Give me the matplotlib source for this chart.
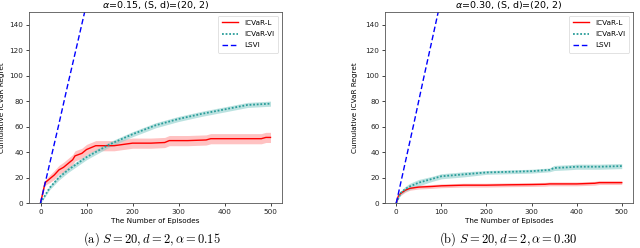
import matplotlib
matplotlib.use("Agg")
import matplotlib.pyplot as plt
import numpy as np

plt.rcParams['font.family'] = 'DejaVu Sans'
plt.rcParams['mathtext.fontset'] = 'dejavusans'

# Panel (a): alpha = 0.15
a_x = [0, 10, 20, 30, 40, 50, 60, 70, 75, 90, 100, 110, 120, 140, 160, 180, 200, 240, 270, 280, 320, 360, 370, 420, 480, 490, 500]
a_red = [0, 16, 19, 22, 26, 28, 31, 34, 37, 39, 42, 43.5, 45, 45, 45, 46, 47, 47, 47.5, 49, 49, 49.5, 50.5, 50.5, 50.5, 51.5, 51.5]
a_red_sd = [0, 2, 3, 3.5, 3.5, 4, 4, 4, 4, 4, 4, 4, 4, 4, 4, 4, 4, 4, 4, 4, 4, 4, 4, 4, 4, 4, 4]
a_vi_x = [0, 10, 20, 40, 60, 80, 100, 125, 150, 175, 200, 250, 300, 350, 400, 450, 500]
a_vi = [0, 6, 12, 20, 26, 31, 36, 41, 46, 50, 54, 61, 66, 70, 73.5, 77, 78]
a_vi_sd = [0, 1, 1.5, 2, 2, 2, 2, 2, 2, 2, 2, 2, 2, 2, 2, 2, 2]
a_ls_x = [0, 20, 40, 60, 80, 96]
a_ls = [0, 31, 62, 94, 125, 150]

# Panel (b): alpha = 0.30
b_x = [0, 5, 10, 20, 30, 50, 80, 100, 150, 200, 250, 300, 330, 340, 400, 440, 450, 500]
b_red = [0, 6, 7.5, 10, 11.5, 12.5, 13, 13.5, 14, 14, 14.3, 14.5, 14.7, 15, 15, 15.5, 16, 16]
b_red_sd = [0, 1, 1.5, 1.5, 1.5, 1.5, 1.5, 1.5, 1.5, 1.5, 1.5, 1.5, 1.5, 1.5, 1.5, 1.5, 1.5, 1.5]
b_vi_x = [0, 10, 20, 30, 50, 80, 100, 150, 200, 250, 300, 340, 350, 380, 400, 450, 500]
b_vi = [0, 8, 11, 13, 16, 19, 21, 22.5, 24, 24.5, 25, 26, 27.5, 28, 28.5, 28.5, 29]
b_vi_sd = [0, 1.5, 2, 2.5, 2.5, 2, 2, 2, 1.5, 1.5, 1.5, 1.5, 2, 2, 2, 2, 2]
b_ls_x = [0, 20, 40, 60, 80, 93]
b_ls = [0, 32, 64, 97, 129, 150]

xticks = [0, 100, 200, 300, 400, 500]
yticks = [0, 20, 40, 60, 80, 100, 120, 140]
titles = [r'$\alpha$=0.15, (S, d)=(20, 2)', r'$\alpha$=0.30, (S, d)=(20, 2)']
captions = [r'$\mathrm{(a)}\ S = 20, d = 2, \alpha = 0.15$',
            r'$\mathrm{(b)}\ S = 20, d = 2, \alpha = 0.30$']

fig = plt.figure(figsize=(6.4, 2.48), dpi=100)
W, H = 640, 248
axes_px = [(29, 12, 282, 203), (385, 12, 633, 203)]
ylab_px = [5.5, 358]
cap_cx = [152, 508]

panels = [
    (a_x, a_red, a_red_sd, a_vi_x, a_vi, a_vi_sd, a_ls_x, a_ls),
    (b_x, b_red, b_red_sd, b_vi_x, b_vi, b_vi_sd, b_ls_x, b_ls),
]

fs = 5.2
for i, (l, t, r, b) in enumerate(axes_px):
    ax = fig.add_axes([l / W, 1 - b / H, (r - l) / W, (b - t) / H])
    rx, ry, rs, vx, vy, vs, lx, ly = panels[i]
    rx = np.array(rx); ry = np.array(ry); rs = np.array(rs)
    vx = np.array(vx); vy = np.array(vy); vs = np.array(vs)
    ax.fill_between(rx, ry - rs, ry + rs, color='#ff9a9a', alpha=0.6, lw=0)
    ax.fill_between(vx, vy - vs, vy + vs, color='#8fd0cc', alpha=0.6, lw=0)
    ax.plot(rx, ry, color='red', lw=1.0, label='ICVaR-L')
    ax.plot(vx, vy, color='#2a9d9a', lw=1.3, ls=(0, (1, 1)), label='ICVaR-VI')
    ax.plot(lx, ly, color='blue', lw=1.0, ls=(0, (4, 2)), label='LSVI')
    ax.set_xlim(-25, 525)
    ax.set_ylim(0, 150)
    ax.set_xticks(xticks)
    ax.set_yticks(yticks)
    ax.tick_params(labelsize=fs, length=2.5, width=0.6, pad=1.5, colors='#222222')
    for sp in ax.spines.values():
        sp.set_linewidth(0.6)
        sp.set_color('#555555')
    ax.set_xlabel('The Number of Episodes', fontsize=fs)
    ax.xaxis.set_label_coords(0.5, (203 - 218) / 191)
    ax.set_ylabel('Cumulative ICVaR Regret', fontsize=fs)
    ax.yaxis.set_label_coords((ylab_px[i] - l) / (r - l), 0.5)
    fig.text((l + r) / 2 / W, 1 - 5 / H, titles[i], fontsize=6.8, ha='center', va='center')
    leg = ax.legend(loc='upper right', fontsize=fs, handlelength=2.2, borderpad=0.6,
                    labelspacing=0.7, framealpha=0.8, edgecolor='#cccccc')
    leg.get_frame().set_linewidth(0.5)

plt.rcParams['mathtext.fontset'] = 'cm'
for i in range(2):
    fig.text(cap_cx[i] / W, 1 - 239 / H, captions[i], fontsize=9.0,
             ha='center', va='center')

fig.savefig('out.png', dpi=100)
